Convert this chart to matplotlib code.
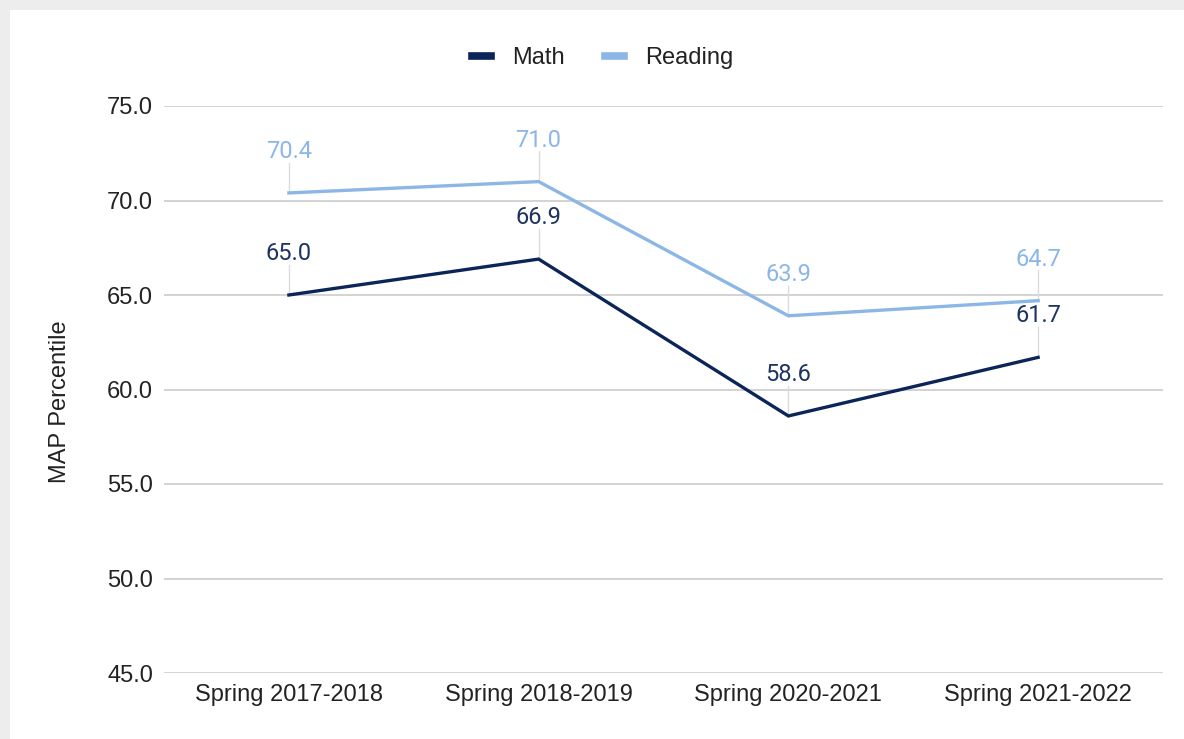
import matplotlib
matplotlib.use("Agg")
import matplotlib.pyplot as plt
from matplotlib.patches import Rectangle
from matplotlib.lines import Line2D

# Data
seasons = ["Spring 2017-2018", "Spring 2018-2019", "Spring 2020-2021", "Spring 2021-2022"]
math_scores = [65.0, 66.9, 58.6, 61.7]
reading_scores = [70.4, 71.0, 63.9, 64.7]
y_ticks = [45.0, 50.0, 55.0, 60.0, 65.0, 70.0, 75.0]

MATH_COLOR = "#0c2558"
READING_COLOR = "#8cb6e6"
MATH_LABEL = "#1d3461"
READING_LABEL = "#8cb6e6"
GRID = "#d0d0d0"
TEXT = "#222222"
FS = 17

W, H = 1184, 739
fig = plt.figure(figsize=(W / 100, H / 100), dpi=100)
fig.patch.set_facecolor("#ededed")
# white card
fig.add_artist(Rectangle((10 / W, 0), 1 - 10 / W, 1 - 10 / H, transform=fig.transFigure,
                         facecolor="white", edgecolor="none", zorder=0))

ax = fig.add_axes([164 / W, 1 - 673 / H, (1163 - 164) / W, (673 - 106) / H])
ax.set_facecolor("none")
x = list(range(len(seasons)))

ax.set_xlim(-0.5, len(seasons) - 0.5)
ax.set_ylim(45, 75)
ax.set_yticks(y_ticks)
ax.set_yticklabels([f"{v:.1f}" for v in y_ticks], fontfamily="Liberation Sans", fontsize=FS, color=TEXT)
ax.set_xticks(x)
ax.set_xticklabels(seasons, fontfamily="Liberation Sans", fontsize=FS, color=TEXT)
ax.tick_params(axis="both", length=0)
ax.tick_params(axis="y", pad=8)
ax.tick_params(axis="x", pad=8)
for s in ax.spines.values():
    s.set_visible(False)
ax.grid(axis="y", color=GRID, linewidth=1.3)
ax.set_axisbelow(True)

ax.plot(x, math_scores, color=MATH_COLOR, linewidth=2.4, solid_joinstyle="miter", zorder=3)
ax.plot(x, reading_scores, color=READING_COLOR, linewidth=2.4, solid_joinstyle="miter", zorder=3)

# value labels with thin leader lines
offset = 2.2
for xi, v in zip(x, math_scores):
    ax.plot([xi, xi], [v, v + offset - 0.6], color="#dcdcdc", linewidth=1.0, zorder=2)
    ax.text(xi, v + offset, f"{v:.1f}", ha="center", va="center", fontfamily="Roboto",
            fontsize=FS, color=MATH_LABEL, zorder=4)
for xi, v in zip(x, reading_scores):
    ax.plot([xi, xi], [v, v + offset - 0.6], color="#dcdcdc", linewidth=1.0, zorder=2)
    ax.text(xi, v + offset, f"{v:.1f}", ha="center", va="center", fontfamily="Roboto",
            fontsize=FS, color=READING_LABEL, zorder=4)

fig.text(60 / W, 1 - 402 / H, "MAP Percentile", rotation=90, ha="center", va="center",
         fontfamily="Liberation Sans", fontsize=FS, color=TEXT)

handles = [Line2D([0], [0], color=MATH_COLOR, linewidth=5.5),
           Line2D([0], [0], color=READING_COLOR, linewidth=5.5)]
fig.legend(handles, ["Math", "Reading"], loc="center", bbox_to_anchor=(603 / W, 1 - 58 / H),
           ncol=2, frameon=False, prop={"family": "Liberation Sans", "size": FS},
           handlelength=0.8, handletextpad=0.9, columnspacing=1.7, labelcolor=TEXT)

fig.savefig("out.png", dpi=100, facecolor=fig.get_facecolor())
